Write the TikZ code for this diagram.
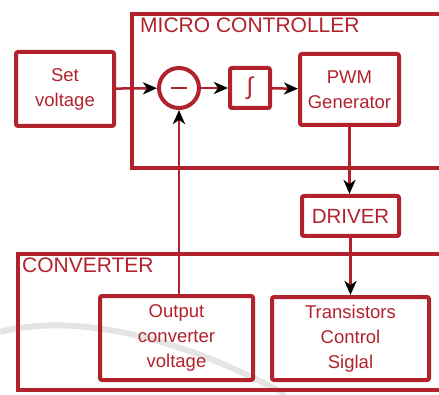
\documentclass[tikz,border=0pt]{standalone}
\usepackage{fontspec}
\setmainfont{Liberation Sans}
\usetikzlibrary{arrows.meta,positioning}
\definecolor{ctrl}{RGB}{178,34,44}
\definecolor{wmgray}{RGB}{228,228,228}
\tikzset{
  blk/.style={draw=ctrl,line width=4pt,rounded corners=2pt,text=ctrl,align=center,inner sep=0pt,font=\fontsize{18.5}{25}\selectfont},
  grp/.style={draw=ctrl,line width=4pt},
  grplabel/.style={anchor=base west,text=ctrl,inner sep=0pt,font=\fontsize{21}{21}\selectfont},
  wire/.style={draw=ctrl,line width=2.5pt,-{Stealth[black,length=14pt,width=12pt,inset=4pt]}}
}

\begin{document}
\begin{tikzpicture}[x=1pt,y=1pt]
\useasboundingbox (0,0) rectangle (439,394);
\clip (0,0) rectangle (439,394);
% faint background arc
\draw[wmgray,line width=6pt] (0,62) .. controls (70,80) and (170,62) .. (285,0);
% group frames
\draw[grp] (132,380) rectangle (450,226);
\node[grplabel] (mclabel) at (140,361) {MICRO CONTROLLER};
\draw[grp] (18,140) rectangle (450,4);
\node[grplabel] (cvlabel) at (22,122) {CONVERTER};
% blocks
\node[blk,minimum width=98pt,minimum height=74pt] (setv) at (65,305) {Set\\voltage};
\node[circle,draw=ctrl,line width=4pt,minimum size=40pt,inner sep=0pt] (sum) at (179,306) {\color{ctrl}\rule{16pt}{2.5pt}};
\node[blk,minimum width=40pt,minimum height=40pt,font=\fontsize{24}{24}\selectfont] (integ) at (250,306) {∫};
\node[blk,minimum width=99pt,minimum height=71pt] (pwm) at (349.5,304.5) {PWM\\Generator};
\node[blk,minimum width=97pt,minimum height=40pt,font=\fontsize{20.5}{20}\selectfont] (driver) at (350.5,178) {DRIVER};
\node[blk,minimum width=153pt,minimum height=84pt] (outv) at (176.5,56) {Output\\converter\\voltage};
\node[blk,minimum width=157pt,minimum height=83pt] (trans) at (350.5,55.5) {Transistors\\Control\\Siglal};
% connectors
\draw[wire] (setv) -- (sum);
\draw[wire] (sum) -- (integ);
\draw[wire] (integ) -- (pwm);
\draw[wire] (pwm.south) -- (pwm.south |- driver.north);
\draw[wire] (driver.south) -- (driver.south |- trans.north);
\draw[wire] (sum.south |- outv.north) -- (sum.south);
\end{tikzpicture}
\end{document}
